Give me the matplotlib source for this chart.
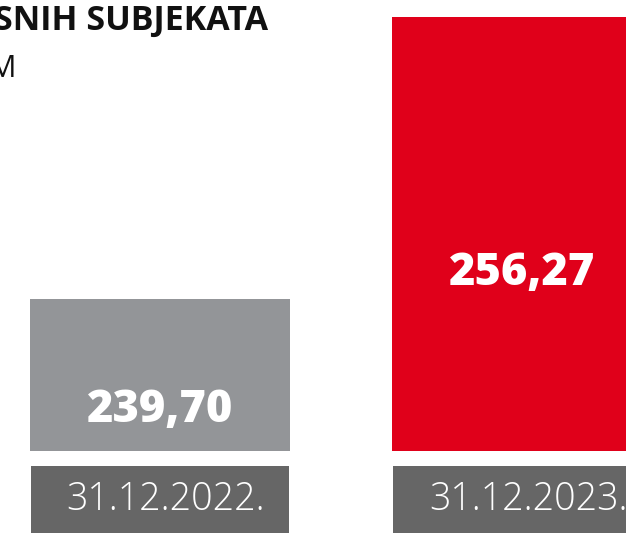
import matplotlib.pyplot as plt

dates = ["31.12.2022.", "31.12.2023."]
values = [239.70, 256.27]
value_labels = ["239,70", "256,27"]
bar_colors = ["#939598", "#E0001A"]
title_line1 = "SNIH SUBJEKATA"
title_line2 = "M"

fam = "Open Sans"

W, H = 626, 533
fig = plt.figure(figsize=(W / 100, H / 100), dpi=100)

# main bars: axis does not start at zero
ax = fig.add_axes([0, 82 / H, 1, 451 / H])
x = list(range(len(values)))
ax.bar(x, values, width=260 / 362, color=bar_colors)
ax.set_xlim(-160 / 362, (W - 160) / 362)
ax.set_ylim(230.76, 257.29)
ax.axis("off")

label_y = [233.15, 241.2]
for xi, lab, ly in zip(x, value_labels, label_y):
    ax.text(xi, ly, lab, ha="center", va="center", color="white",
            fontsize=32.5, fontweight="heavy", family=fam)

# date boxes below
ax2 = fig.add_axes([0, 0, 1, 67 / H])
ax2.bar(x, [1, 1], width=258 / 362, color="#666666")
ax2.set_xlim(ax.get_xlim())
ax2.set_ylim(0, 1)
ax2.axis("off")
for xi, d in zip(x, dates):
    ax2.text(xi + 6 / 362, 23 / 67, d, ha="center", va="baseline", color="white",
             fontsize=27, fontweight="light", family=fam)

fig.text(-6 / W, 1 - 4 / H, title_line1, ha="left", va="top", fontsize=24.5,
         fontweight="bold", family=fam, color="#111111")
fig.text(-11 / W, 1 - 54 / H, title_line2, ha="left", va="top", fontsize=22,
         fontweight="normal", family=fam, color="#111111")

fig.savefig("out.png", dpi=100)
